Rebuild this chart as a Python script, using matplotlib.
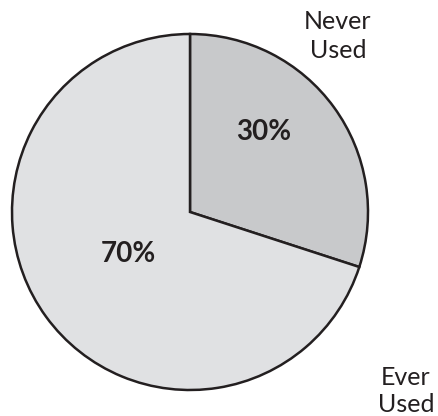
import matplotlib
matplotlib.use("Agg")
import matplotlib.pyplot as plt

categories = ["Never\nUsed", "Ever\nUsed"]
values = [30, 70]
pct_labels = ["30%", "70%"]
colors = ["#c8c9cb", "#e0e1e3"]

W, H = 439, 416
fig = plt.figure(figsize=(W / 100, H / 100), dpi=100)
ax = fig.add_axes([0, 0, 1, 1])

cx, cy, r = 190, H - 212, 178
wedges, _ = ax.pie(values, colors=colors, startangle=90, counterclock=False,
                   center=(cx, cy), radius=r, frame=True,
                   wedgeprops=dict(edgecolor="#231f20", linewidth=1.8))
ax.set_xlim(0, W)
ax.set_ylim(0, H)
ax.set_aspect("equal")
ax.axis("off")

font = "Lato"
ax.text(338, H - 36, categories[0], ha="center", va="center", fontsize=18,
        family=font, color="#231f20", linespacing=1.35)
ax.text(406, H - 391, categories[1], ha="center", va="center", fontsize=18,
        family=font, color="#231f20", linespacing=1.25)
ax.text(264, H - 132, pct_labels[0], ha="center", va="center", fontsize=20,
        family=font, weight="bold", color="#231f20")
ax.text(128, H - 254, pct_labels[1], ha="center", va="center", fontsize=20,
        family=font, weight="bold", color="#231f20")

fig.savefig("out.png", dpi=100)
